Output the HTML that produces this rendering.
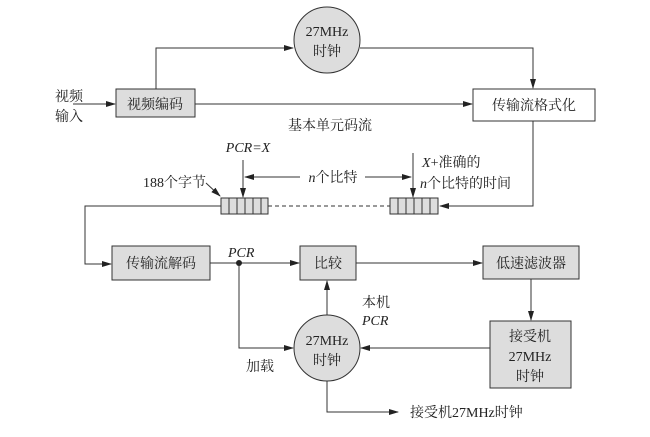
<!DOCTYPE html>
<html><head><meta charset="utf-8"><style>
body{margin:0;background:#fff}
svg text{font-family:"Liberation Serif","Noto Serif CJK SC",serif;font-size:14px;fill:#222}
.i{font-style:italic}
</style></head><body>
<svg width="650" height="432" viewBox="0 0 650 432" xmlns="http://www.w3.org/2000/svg">
<defs><marker id="a" markerWidth="10" markerHeight="8" refX="9" refY="4" orient="auto" markerUnits="userSpaceOnUse"><path d="M0,1 L10,4 L0,7 Z" fill="#222"/></marker></defs>
<g stroke="#333" stroke-width="1" fill="none">
<line x1="73" y1="104" x2="115" y2="104" marker-end="url(#a)"/>
<polyline points="156,89 156,48 293,48" marker-end="url(#a)"/>
<polyline points="360,48 533,48 533,88" marker-end="url(#a)"/>
<line x1="195" y1="104" x2="472" y2="104" marker-end="url(#a)"/>
<polyline points="533,121 533,206 440,206" marker-end="url(#a)"/>
<line x1="268" y1="206" x2="390" y2="206" stroke-dasharray="4,3"/>
<polyline points="221,206 85,206 85,264 111,264" marker-end="url(#a)"/>
<line x1="243" y1="160" x2="243" y2="197" marker-end="url(#a)"/>
<line x1="300" y1="177" x2="245" y2="177" marker-end="url(#a)"/>
<line x1="365" y1="177" x2="411" y2="177" marker-end="url(#a)"/>
<line x1="413" y1="153" x2="413" y2="197" marker-end="url(#a)"/>
<line x1="206" y1="183" x2="220" y2="196" marker-end="url(#a)"/>
<line x1="210" y1="263" x2="299" y2="263" marker-end="url(#a)"/>
<line x1="356" y1="263" x2="482" y2="263" marker-end="url(#a)"/>
<line x1="531" y1="279" x2="531" y2="320" marker-end="url(#a)"/>
<line x1="490" y1="348" x2="361" y2="348" marker-end="url(#a)"/>
<line x1="327" y1="315" x2="327" y2="281" marker-end="url(#a)"/>
<polyline points="239,263 239,348 293,348" marker-end="url(#a)"/>
<polyline points="327,381 327,412 398,412" marker-end="url(#a)"/>
</g>
<circle cx="239" cy="263" r="3" fill="#222"/>
<g stroke="#333" fill="#ddd">
<circle cx="327" cy="40" r="33"/>
<rect x="116" y="89" width="79" height="28"/>
<rect x="473" y="89" width="122" height="32" fill="#fff"/>
<rect x="112" y="246" width="98" height="34"/>
<rect x="300" y="246" width="56" height="34"/>
<rect x="483" y="246" width="96" height="33"/>
<rect x="490" y="321" width="81" height="67"/>
<circle cx="327" cy="348" r="33"/>
<rect x="221" y="198" width="47" height="16"/>
<rect x="390" y="198" width="48" height="16"/>
</g>
<g stroke="#333">
<line x1="229" y1="198" x2="229" y2="214"/><line x1="237" y1="198" x2="237" y2="214"/><line x1="245" y1="198" x2="245" y2="214"/><line x1="253" y1="198" x2="253" y2="214"/><line x1="261" y1="198" x2="261" y2="214"/>
<line x1="398" y1="198" x2="398" y2="214"/><line x1="406" y1="198" x2="406" y2="214"/><line x1="414" y1="198" x2="414" y2="214"/><line x1="422" y1="198" x2="422" y2="214"/><line x1="430" y1="198" x2="430" y2="214"/>
</g>
<g text-anchor="middle">
<text x="327" y="36">27MHz</text><text x="327" y="56">时钟</text>
<text x="155" y="109">视频编码</text>
<text x="534" y="110">传输流格式化</text>
<text x="161" y="268">传输流解码</text>
<text x="328" y="268">比较</text>
<text x="531" y="268">低速滤波器</text>
<text x="530" y="341">接受机</text><text x="530" y="361">27MHz</text><text x="530" y="381">时钟</text>
<text x="327" y="345">27MHz</text><text x="327" y="365">时钟</text>
<text x="330" y="130">基本单元码流</text>
<text x="248" y="152" class="i">PCR=X</text>
<text x="333" y="182"><tspan class="i">n</tspan>个比特</text>
</g>
<text x="55" y="101">视频</text><text x="55" y="121">输入</text>
<text x="143" y="187">188个字节</text>
<text x="422" y="167"><tspan class="i">X</tspan>+准确的</text>
<text x="420" y="188"><tspan class="i">n</tspan>个比特的时间</text>
<text x="228" y="257" class="i">PCR</text>
<text x="362" y="307">本机</text><text x="362" y="325" class="i">PCR</text>
<text x="246" y="371">加载</text>
<text x="410" y="417">接受机27MHz时钟</text>
</svg>
</body></html>
